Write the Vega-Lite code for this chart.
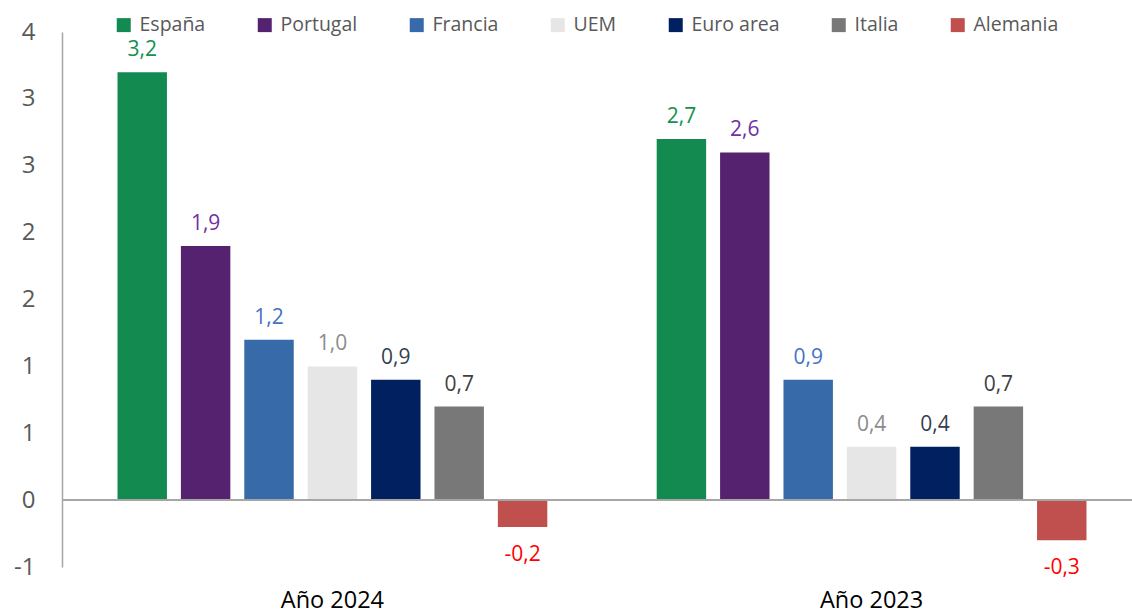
{
  "$schema": "https://vega.github.io/schema/vega-lite/v6.json",
  "width": 1070,
  "height": 535,
  "autosize": {"type": "none"},
  "padding": {"left": 62, "top": 32, "right": 0, "bottom": 48},
  "config": {
    "locale": {"number": {"decimal": ",", "thousands": ".", "grouping": [3], "currency": ["", " €"], "minus": "-"}},
    "view": {"stroke": null},
    "font": "Open Sans"
  },
  "data": {
    "values": [
      {"periodo": "Año 2024", "pais": "España", "valor": 3.2},
      {"periodo": "Año 2024", "pais": "Portugal", "valor": 1.9},
      {"periodo": "Año 2024", "pais": "Francia", "valor": 1.2},
      {"periodo": "Año 2024", "pais": "UEM", "valor": 1.0},
      {"periodo": "Año 2024", "pais": "Euro area", "valor": 0.9},
      {"periodo": "Año 2024", "pais": "Italia", "valor": 0.7},
      {"periodo": "Año 2024", "pais": "Alemania", "valor": -0.2},
      {"periodo": "Año 2023", "pais": "España", "valor": 2.7},
      {"periodo": "Año 2023", "pais": "Portugal", "valor": 2.6},
      {"periodo": "Año 2023", "pais": "Francia", "valor": 0.9},
      {"periodo": "Año 2023", "pais": "UEM", "valor": 0.4},
      {"periodo": "Año 2023", "pais": "Euro area", "valor": 0.4},
      {"periodo": "Año 2023", "pais": "Italia", "valor": 0.7},
      {"periodo": "Año 2023", "pais": "Alemania", "valor": -0.3}
    ]
  },
  "encoding": {
    "x": {
      "field": "periodo", "type": "nominal", "sort": ["Año 2024", "Año 2023"],
      "scale": {"range": [0, 1080], "paddingInner": 0.177, "paddingOuter": 0.09},
      "axis": {"title": null, "domain": false, "ticks": false, "labelFontSize": 23.5, "labelColor": "#000000", "labelPadding": 21, "labelAngle": 0, "labelFont": "Open Sans"}
    },
    "xOffset": {
      "field": "pais", "type": "nominal",
      "sort": ["España", "Portugal", "Francia", "UEM", "Euro area", "Italia", "Alemania"],
      "scale": {"paddingInner": 0.22, "paddingOuter": 0.11}
    },
    "y": {
      "field": "valor", "type": "quantitative",
      "scale": {"domain": [-0.5, 3.5], "nice": false, "zero": false},
      "axis": {"title": null, "values": [-0.5, 0, 0.5, 1, 1.5, 2, 2.5, 3, 3.5], "format": ".0f", "grid": false, "ticks": false, "domainColor": "#A6A6A6", "domainWidth": 1.5, "labelFontSize": 24, "labelColor": "#595959", "labelPadding": 27, "labelFont": "Open Sans"}
    }
  },
  "layer": [
    {
      "mark": {"type": "bar"},
      "encoding": {
        "color": {
          "field": "pais", "type": "nominal",
          "scale": {"domain": ["España", "Portugal", "Francia", "UEM", "Euro area", "Italia", "Alemania"],
                    "range": ["#138A50", "#55226F", "#376AA9", "#E6E6E6", "#002060", "#787878", "#C0504D"]},
          "legend": {
            "title": null, "orient": "none", "legendX": 52, "legendY": -17, "direction": "horizontal",
            "symbolType": "square", "symbolSize": 196, "symbolStrokeWidth": 0,
            "labelFontSize": 19.5, "labelColor": "#595959", "labelOffset": 6, "columnPadding": 49,
            "padding": 0, "labelFont": "Open Sans"
          }
        }
      }
    },
    {
      "mark": {"type": "rule", "color": "#A6A6A6", "strokeWidth": 1.5},
      "encoding": {"y": {"datum": 0}, "x": null, "xOffset": null}
    },
    {
      "transform": [{"filter": "datum.valor >= 0"}],
      "mark": {"type": "text", "baseline": "alphabetic", "dy": -16, "fontSize": 21, "font": "Open Sans"},
      "encoding": {
        "text": {"field": "valor", "type": "quantitative", "format": ".1f"},
        "color": {
          "field": "pais", "type": "nominal", "legend": null,
          "scale": {"domain": ["España", "Portugal", "Francia", "UEM", "Euro area", "Italia", "Alemania"],
                    "range": ["#13914F", "#7030A0", "#4472C4", "#8C8C8C", "#333F50", "#404040", "#FF0000"]}
        }
      }
    },
    {
      "transform": [{"filter": "datum.valor < 0"}],
      "mark": {"type": "text", "baseline": "alphabetic", "dy": 34, "fontSize": 21, "font": "Open Sans"},
      "encoding": {
        "text": {"field": "valor", "type": "quantitative", "format": ".1f"},
        "color": {
          "field": "pais", "type": "nominal", "legend": null,
          "scale": {"domain": ["España", "Portugal", "Francia", "UEM", "Euro area", "Italia", "Alemania"],
                    "range": ["#13914F", "#7030A0", "#4472C4", "#8C8C8C", "#333F50", "#404040", "#FF0000"]}
        }
      }
    }
  ],
  "resolve": {"scale": {"color": "independent"}}
}
